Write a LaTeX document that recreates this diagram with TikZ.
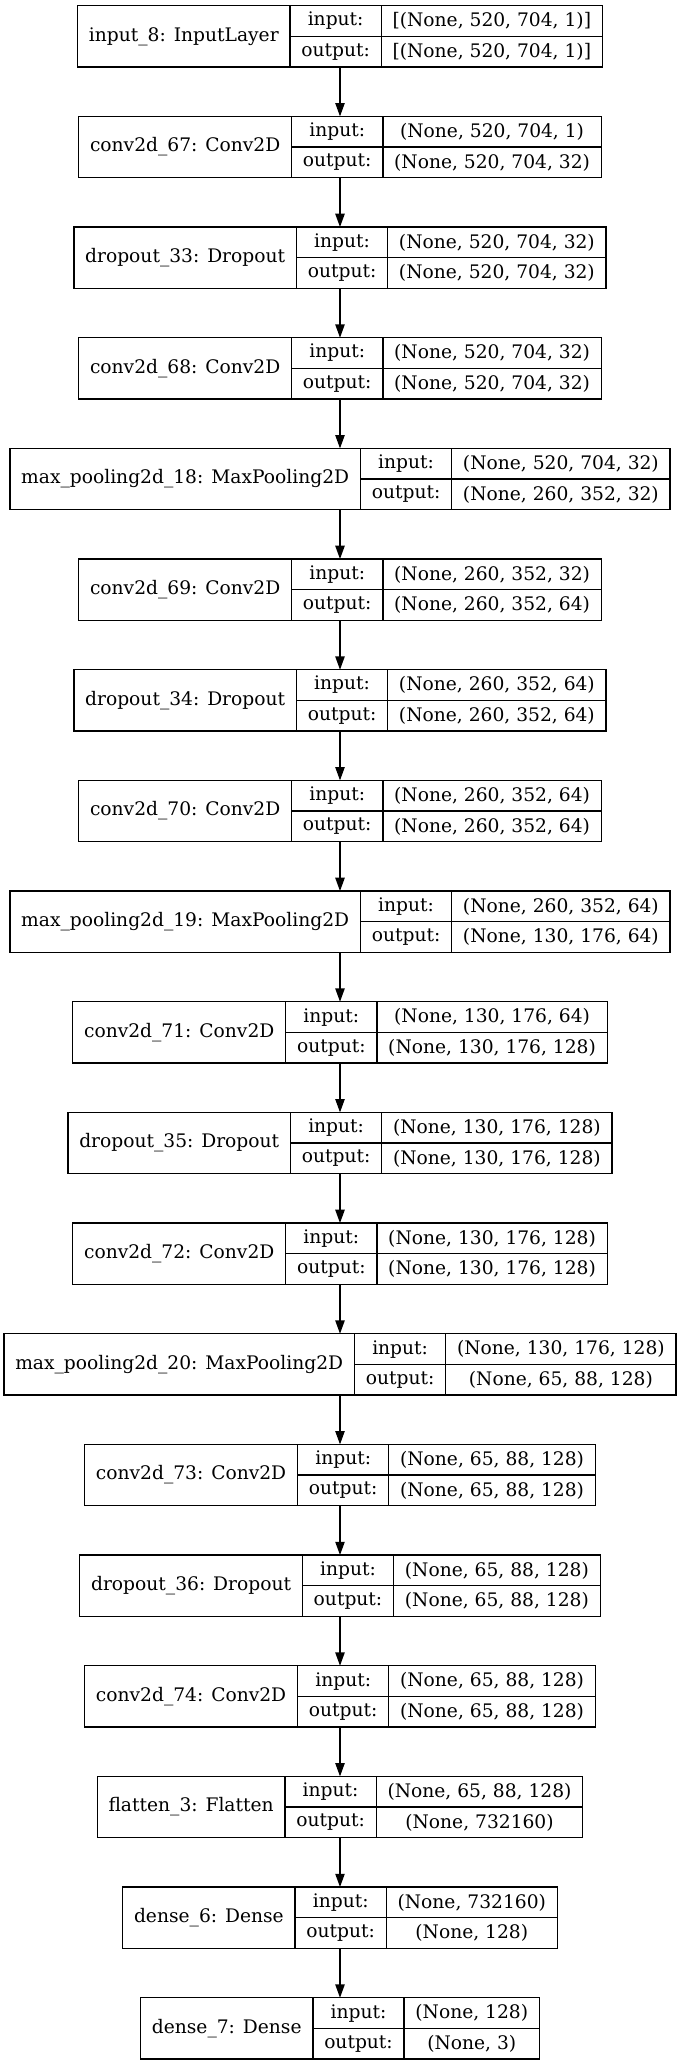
\documentclass[tikz,border=0pt]{standalone}
\usepackage{fontspec}
\setmainfont{DejaVu Serif}
\usetikzlibrary{
	arrows.meta,positioning,fit
}

\newcommand{\boxfont}{\fontsize{14pt}{17pt}\selectfont}
\newlength{\namew}
\newlength{\portw}
\newlength{\shapew}
\newlength{\shapeww}

\tikzset{
	cell/.style={
		rectangle, draw=black, line width=1pt, inner sep=0pt, outer sep=0pt,
		font=\boxfont, anchor=north west
	},
	%
	namecell/.style={
		cell, minimum height=46pt
	},
	%
	portcell/.style={
		cell, minimum height=23pt
	},
	%
	layer/.style={
		rectangle, inner sep=0pt, outer sep=0pt
	},
	%
	flow/.style={
		-{Triangle[length=10pt,width=7pt]}, line width=1pt
	}
}

% one record: name | input:/output: | shapes, centred on the page
\newcommand{\layerbox}[5]{%
	\pgfinterruptpicture
		\settowidth{\namew}{\normalfont\boxfont #3}\global\namew=\namew
		\settowidth{\portw}{\normalfont\boxfont output:}\global\portw=\portw
		\settowidth{\shapew}{\normalfont\boxfont #4}\global\shapew=\shapew
		\settowidth{\shapeww}{\normalfont\boxfont #5}\global\shapeww=\shapeww
	\endpgfinterruptpicture
	\ifdim\shapeww>\shapew \setlength{\shapew}{\shapeww}\fi
	\addtolength{\namew}{17pt}%
	\addtolength{\portw}{17pt}%
	\addtolength{\shapew}{17pt}%
	\pgfmathsetmacro{\xleft}{255-(\namew+\portw+\shapew)/2}%
	\pgfmathsetmacro{\ytop}{-4.3-83*#2}%
	\node(#1-name)[namecell, minimum width=\namew] at (\xleft pt,\ytop pt){#3};
	\node(#1-in)[portcell, minimum width=\portw] at (#1-name.north east){input:};
	\node(#1-out)[portcell, minimum width=\portw] at (#1-in.south west){output:};
	\node(#1-inshape)[portcell, minimum width=\shapew] at (#1-in.north east){#4};
	\node(#1-outshape)[portcell, minimum width=\shapew] at (#1-out.north east){#5};
	\node(#1)[layer, fit=(#1-name)(#1-outshape)]{};
}

\begin{document}
\begin{tikzpicture}
    \useasboundingbox (0,0) rectangle (510pt,-1548.75pt);
    \layerbox{input8}{0}{input\_8: InputLayer}{[(None, 520, 704, 1)]}{[(None, 520, 704, 1)]}
    \layerbox{conv67}{1}{conv2d\_67: Conv2D}{(None, 520, 704, 1)}{(None, 520, 704, 32)}
    \layerbox{drop33}{2}{dropout\_33: Dropout}{(None, 520, 704, 32)}{(None, 520, 704, 32)}
    \layerbox{conv68}{3}{conv2d\_68: Conv2D}{(None, 520, 704, 32)}{(None, 520, 704, 32)}
    \layerbox{pool18}{4}{max\_pooling2d\_18: MaxPooling2D}{(None, 520, 704, 32)}{(None, 260, 352, 32)}
    \layerbox{conv69}{5}{conv2d\_69: Conv2D}{(None, 260, 352, 32)}{(None, 260, 352, 64)}
    \layerbox{drop34}{6}{dropout\_34: Dropout}{(None, 260, 352, 64)}{(None, 260, 352, 64)}
    \layerbox{conv70}{7}{conv2d\_70: Conv2D}{(None, 260, 352, 64)}{(None, 260, 352, 64)}
    \layerbox{pool19}{8}{max\_pooling2d\_19: MaxPooling2D}{(None, 260, 352, 64)}{(None, 130, 176, 64)}
    \layerbox{conv71}{9}{conv2d\_71: Conv2D}{(None, 130, 176, 64)}{(None, 130, 176, 128)}
    \layerbox{drop35}{10}{dropout\_35: Dropout}{(None, 130, 176, 128)}{(None, 130, 176, 128)}
    \layerbox{conv72}{11}{conv2d\_72: Conv2D}{(None, 130, 176, 128)}{(None, 130, 176, 128)}
    \layerbox{pool20}{12}{max\_pooling2d\_20: MaxPooling2D}{(None, 130, 176, 128)}{(None, 65, 88, 128)}
    \layerbox{conv73}{13}{conv2d\_73: Conv2D}{(None, 65, 88, 128)}{(None, 65, 88, 128)}
    \layerbox{drop36}{14}{dropout\_36: Dropout}{(None, 65, 88, 128)}{(None, 65, 88, 128)}
    \layerbox{conv74}{15}{conv2d\_74: Conv2D}{(None, 65, 88, 128)}{(None, 65, 88, 128)}
    \layerbox{flat3}{16}{flatten\_3: Flatten}{(None, 65, 88, 128)}{(None, 732160)}
    \layerbox{dense6}{17}{dense\_6: Dense}{(None, 732160)}{(None, 128)}
    \layerbox{dense7}{18}{dense\_7: Dense}{(None, 128)}{(None, 3)}
    \foreach \from/\to in {input8/conv67, conv67/drop33, drop33/conv68, conv68/pool18,
        pool18/conv69, conv69/drop34, drop34/conv70, conv70/pool19, pool19/conv71,
        conv71/drop35, drop35/conv72, conv72/pool20, pool20/conv73, conv73/drop36,
        drop36/conv74, conv74/flat3, flat3/dense6, dense6/dense7}
        \draw[flow] (\from.south) -- (\to.north);
\end{tikzpicture}
\end{document}
